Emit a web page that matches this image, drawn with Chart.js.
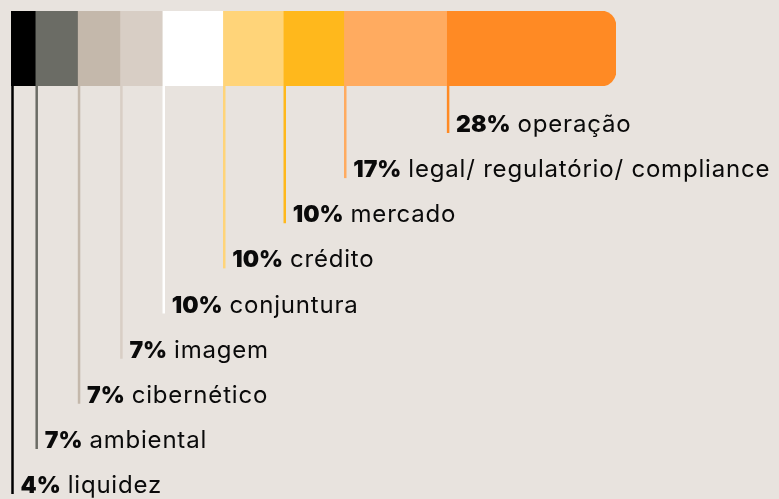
<!DOCTYPE html>
<html>
<head>
<meta charset="utf-8">
<script src="https://cdn.jsdelivr.net/npm/chart.js@4"></script>
<style>
  html, body { margin: 0; padding: 0; background: #e8e3de; }
  #wrap { width: 779px; height: 499px; }
</style>
</head>
<body>
<div id="wrap"><canvas id="chart-riscos" width="779" height="499"></canvas></div>
<script>
  var categorias = ['liquidez', 'ambiental', 'cibernético', 'imagem', 'conjuntura', 'crédito', 'mercado', 'legal/ regulatório/ compliance', 'operação'];
  var percentuais = [4, 7, 7, 7, 10, 10, 10, 17, 28];
  var cores = ['#000000', '#6b6c65', '#c4b8ab', '#d8cec5', '#ffffff', '#ffd479', '#ffb81c', '#ffab60', '#ff8a24'];

  var FONT = 'Inter, "Noto Sans", sans-serif';

  // rotulos em escada abaixo da barra, com linha vertical a partir de cada segmento
  var rotulos = {
    id: 'rotulos',
    afterDraw: function (chart) {
      var ctx = chart.ctx;
      var x = chart.scales.x;
      var area = chart.chartArea;
      var acum = 0;
      ctx.save();
      for (var i = 0; i < percentuais.length; i++) {
        var px = x.getPixelForValue(acum) + 1.5;
        var base = 493 - i * 45.125;
        ctx.strokeStyle = cores[i];
        ctx.lineWidth = 2.5;
        ctx.beginPath();
        ctx.moveTo(px, area.bottom);
        ctx.lineTo(px, base + 1);
        ctx.stroke();

        var tx = px + 8;
        ctx.fillStyle = '#0a0a0a';
        ctx.textBaseline = 'alphabetic';
        ctx.letterSpacing = '0px';
        ctx.font = '900 23px ' + FONT;
        var pct = percentuais[i] + '%';
        ctx.fillText(pct, tx, base);
        var w = ctx.measureText(pct).width;
        ctx.font = '400 24px ' + FONT;
        ctx.letterSpacing = '0.8px';
        ctx.fillText(categorias[i], tx + w + 7, base);
        acum += percentuais[i];
      }
      ctx.restore();
    }
  };

  var datasets = percentuais.map(function (v, i) {
    return {
      label: categorias[i],
      data: [v],
      backgroundColor: cores[i],
      borderWidth: 0,
      borderSkipped: false,
      borderRadius: i === percentuais.length - 1 ? { topLeft: 0, bottomLeft: 0, topRight: 15, bottomRight: 15 } : 0,
      barPercentage: 1,
      categoryPercentage: 1
    };
  });

  new Chart(document.getElementById('chart-riscos'), {
    type: 'bar',
    data: { labels: ['riscos'], datasets: datasets },
    options: {
      indexAxis: 'y',
      responsive: false,
      animation: false,
      layout: { padding: { left: 11, top: 11, right: 163, bottom: 413 } },
      plugins: { legend: { display: false }, tooltip: { enabled: false } },
      scales: {
        x: { stacked: true, min: 0, max: 100, display: false },
        y: { stacked: true, display: false }
      }
    },
    plugins: [rotulos]
  });
</script>
</body>
</html>
